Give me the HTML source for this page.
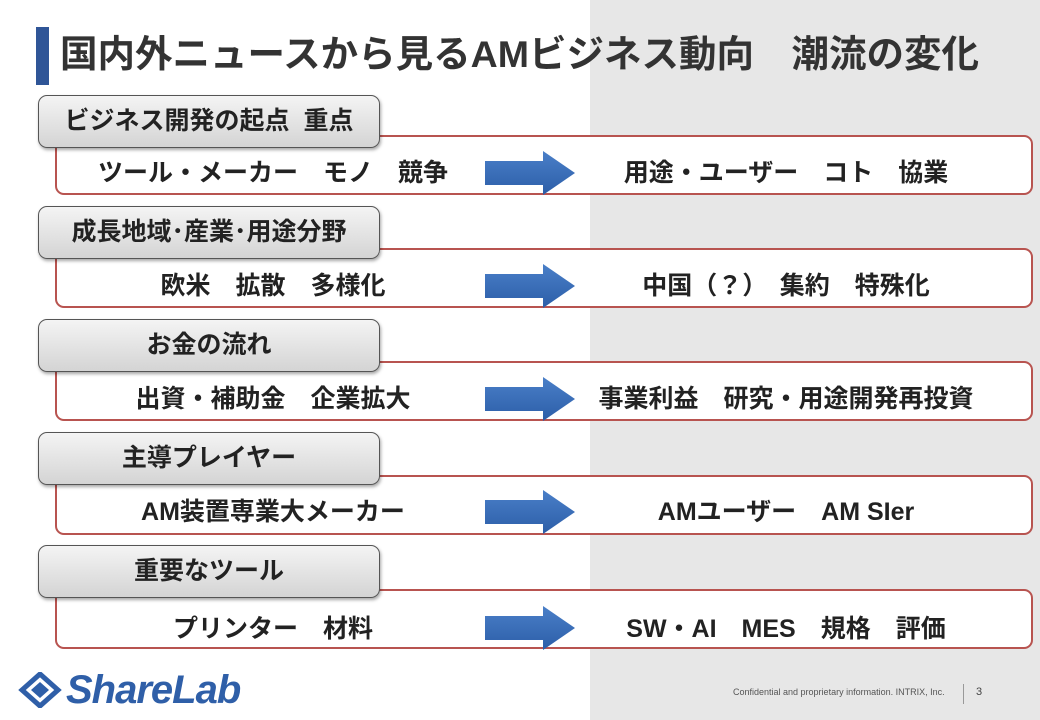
<!DOCTYPE html><html><head><meta charset="utf-8"><style>
body{margin:0;width:1040px;height:720px;position:relative;overflow:hidden;background:#fff;font-family:"Liberation Sans","Noto Sans CJK JP",sans-serif;}
.gray{position:absolute;left:590px;top:0;width:450px;height:720px;background:#e7e7e7}
.bar{position:absolute;left:36px;top:27px;width:13px;height:58px;background:#2f5597}
.title{position:absolute;left:60px;top:33px;font-size:37.5px;line-height:42px;font-weight:bold;color:#333;white-space:nowrap}
.box{position:absolute;left:55px;width:978px;height:60px;border:2px solid #b85450;border-radius:9px;background:#fff;box-sizing:border-box}
.tab{position:absolute;left:38px;width:342px;height:53px;border:1px solid #555;border-radius:9px;background:linear-gradient(#f4f4f4,#d4d4d4);box-sizing:border-box;font-size:25px;font-weight:bold;color:#222;line-height:51px;text-align:center;box-shadow:1px 2px 3px rgba(0,0,0,.35)}
.l,.r{position:absolute;font-size:25px;line-height:28px;font-weight:bold;color:#222;white-space:nowrap;text-align:center}
.l{left:60px;width:426px}.r{left:560px;width:452px}
.arr{position:absolute;left:485px;width:90px;height:44px}
</style></head><body>
<div class="gray"></div><div class="bar"></div>
<div class="title">国内外ニュースから見るAMビジネス動向　潮流の変化</div>

<div class="box" style="top:135px"></div>
<div class="tab" style="top:95px">ビジネス開発の起点&nbsp; 重点</div>
<div class="l" style="top:159px">ツール・メーカー　モノ　競争</div>
<div class="r" style="top:159px">用途・ユーザー　コト　協業</div>
<svg class="arr" style="top:151px" viewBox="0 0 90 44"><defs><linearGradient id="g" x1="0" y1="0" x2="0" y2="1"><stop offset="0" stop-color="#4a7fc8"/><stop offset="1" stop-color="#2c5ea8"/></linearGradient></defs><polygon points="0,10 58,10 58,0 90,22 58,44 58,34 0,34" fill="url(#g)"/></svg>

<div class="box" style="top:248px"></div>
<div class="tab" style="top:206px">成長地域･産業･用途分野</div>
<div class="l" style="top:272px">欧米　拡散　多様化</div>
<div class="r" style="top:272px">中国（？）　集約　特殊化</div>
<svg class="arr" style="top:264px" viewBox="0 0 90 44"><polygon points="0,10 58,10 58,0 90,22 58,44 58,34 0,34" fill="url(#g)"/></svg>

<div class="box" style="top:361px"></div>
<div class="tab" style="top:319px">お金の流れ</div>
<div class="l" style="top:385px">出資・補助金　企業拡大</div>
<div class="r" style="top:385px">事業利益　研究・用途開発再投資</div>
<svg class="arr" style="top:377px" viewBox="0 0 90 44"><polygon points="0,10 58,10 58,0 90,22 58,44 58,34 0,34" fill="url(#g)"/></svg>

<div class="box" style="top:475px"></div>
<div class="tab" style="top:432px">主導プレイヤー</div>
<div class="l" style="top:498px">AM装置専業大メーカー</div>
<div class="r" style="top:498px">AMユーザー　AM SIer</div>
<svg class="arr" style="top:490px" viewBox="0 0 90 44"><polygon points="0,10 58,10 58,0 90,22 58,44 58,34 0,34" fill="url(#g)"/></svg>

<div class="box" style="top:589px"></div>
<div class="tab" style="top:545px">重要なツール</div>
<div class="l" style="top:615px">プリンター　材料</div>
<div class="r" style="top:615px">SW・AI　MES　規格　評価</div>
<svg class="arr" style="top:606px" viewBox="0 0 90 44"><polygon points="0,10 58,10 58,0 90,22 58,44 58,34 0,34" fill="url(#g)"/></svg>

<svg style="position:absolute;left:18px;top:672px" width="44" height="36" viewBox="0 0 44 36"><polygon points="22,2 40,18 22,34 4,18" fill="none" stroke="#2f5fa8" stroke-width="5"/><polygon points="22,10 31,18 22,26 13,18" fill="#2f5fa8"/></svg>
<div style="position:absolute;left:66px;top:668px;font-size:40px;font-weight:bold;font-style:italic;color:#2f5fa8;letter-spacing:-1px">ShareLab</div>
<div style="position:absolute;left:733px;top:687px;font-size:9px;color:#555">Confidential and proprietary information. INTRIX, Inc.</div>
<div style="position:absolute;left:963px;top:684px;width:1px;height:20px;background:#999"></div>
<div style="position:absolute;left:976px;top:686px;font-size:11px;color:#444">3</div>
</body></html>
